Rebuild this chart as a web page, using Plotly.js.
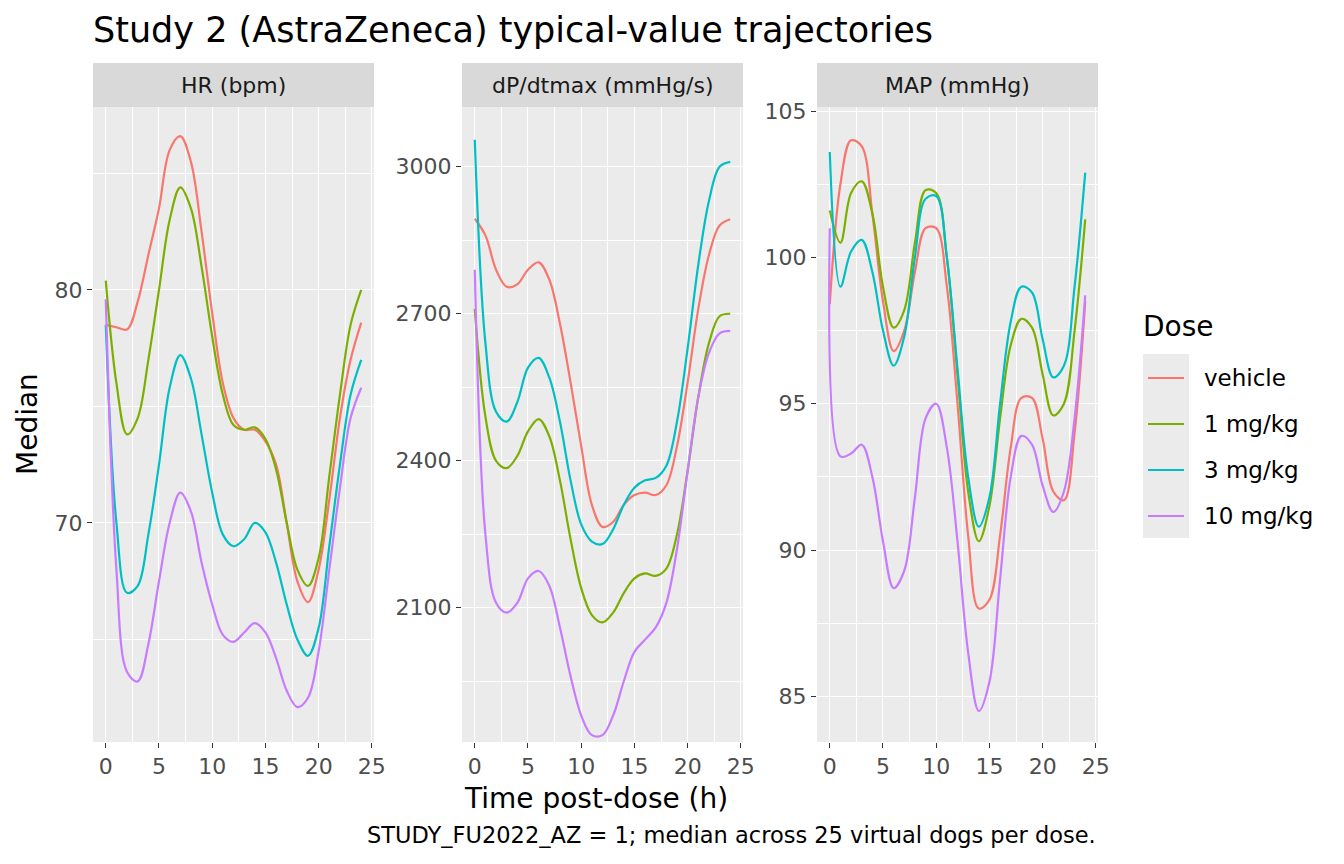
<!DOCTYPE html>
<html><head><script src="https://cdn.plot.ly/plotly-3.0.1.min.js"></script>
<style>body{margin:0}</style></head><body><div id="c" style="width:1344px;height:864px"></div>
<script>
const time=[0,1,2,3,4,5,6,7,8,9,10,11,12,13,14,15,16,17,18,19,20,21,22,23,24];
const doses=["vehicle","1 mg/kg","3 mg/kg","10 mg/kg"];
const colors=["#F8766D","#7CAE00","#00BFC4","#C77CFF"];
const panels=["HR (bpm)","dP/dtmax (mmHg/s)","MAP (mmHg)"];
const hr_vehicle=[78.5,78.4,78.3,79.5,81.5,83.5,86.0,86.6,85.5,82.5,79,76,74.5,74.0,74,73.5,72.5,70,67.5,66.6,68,71,74.5,77,78.6];
const hr_1=[80.4,76,73.8,74.5,77,80,83,84.4,83.5,81,78,75.5,74.2,74,74.1,73.6,72.3,70,68,67.3,68.5,72,75.5,78.5,80];
const hr_3=[78.5,70,67,67.3,69.5,72.5,75.8,77.2,76.2,73.8,71.3,69.5,69.0,69.3,70,69.6,68.3,66.5,65,64.3,65.5,69,72.5,75.5,77];
const hr_10=[79.6,68,63.6,63.2,64.8,67.5,70,71.3,70.5,68.3,66.5,65.2,64.9,65.3,65.7,65.3,64.2,62.8,62.1,62.5,64.5,68,71.5,74.5,75.8];
const dp_vehicle=[2894,2860,2790,2755,2760,2790,2805,2770,2680,2560,2430,2310,2265,2275,2310,2330,2335,2330,2350,2430,2560,2710,2820,2880,2893];
const dp_1=[2710,2490,2400,2385,2410,2460,2485,2450,2360,2240,2140,2085,2070,2090,2130,2160,2170,2165,2180,2250,2380,2530,2640,2695,2700];
const dp_3=[3055,2640,2500,2480,2520,2590,2610,2570,2480,2360,2270,2235,2230,2260,2310,2345,2360,2365,2390,2480,2630,2800,2930,3000,3010];
const dp_10=[2790,2250,2110,2090,2110,2160,2175,2145,2060,1960,1880,1840,1840,1880,1950,2010,2035,2060,2110,2220,2380,2530,2620,2660,2665];
const map_vehicle=[98.4,102.5,104,103.8,101.5,98.5,96.8,97.5,99.5,101,101,99,95,90.5,88,88.3,90.5,93.5,95.2,95.2,93.8,92,91.7,94,98.5];
const map_1=[101.6,100.5,102.2,102.6,101.5,99,97.6,98.2,100.5,102.3,102.2,100,96,92,90.3,91.5,94.5,97,97.9,97.6,96,94.6,95,97.5,101.3];
const map_3=[103.6,99.0,100.2,100.6,99.5,97.5,96.3,97.3,100,102,102.1,100,96.2,92.5,90.8,91.8,95,97.8,99,98.8,97.2,95.9,96.3,99,102.9];
const map_10=[101,93.2,93.3,93.6,92.5,90.3,88.7,89.3,91.8,94.5,95,93.5,90.3,86.5,84.5,85.5,89,92.5,93.9,93.6,92.2,91.3,92,94.5,98.7];
const series=[[hr_vehicle,hr_1,hr_3,hr_10],[dp_vehicle,dp_1,dp_3,dp_10],[map_vehicle,map_1,map_3,map_10]];
const W=1344,H=864;
const xd=[[93,374],[462,743],[817,1098]];
const yr=[[60.6,87.85],[1826,3122],[83.44,105.14]];
const ydt=[10,300,5];
const traces=[];const layout={width:W,height:H,margin:{l:0,r:0,t:0,b:0},paper_bgcolor:"white",plot_bgcolor:"#EBEBEB",showlegend:false,
 font:{family:"DejaVu Sans",color:"#4D4D4D"},shapes:[],annotations:[]};
const py=v=>1-v/H, px=v=>v/W;
series.forEach((ps,p)=>{
 const s=p==0?"":String(p+1);
 ps.forEach((arr,i)=>traces.push({x:time,y:arr,type:"scatter",mode:"lines",line:{color:colors[i],width:2.2,shape:"spline",smoothing:1},xaxis:"x"+s,yaxis:"y"+s,name:doses[i]}));
 layout["xaxis"+s]={domain:[px(xd[p][0]),px(xd[p][1])],range:[-1.2,25.2],anchor:"y"+s,tickvals:[0,5,10,15,20,25],gridcolor:"white",gridwidth:1.3,
   minor:{dtick:2.5,tick0:0,gridcolor:"white",gridwidth:0.6},zeroline:false,ticks:"outside",ticklen:5,tickcolor:"#333",tickfont:{size:22,color:"#4D4D4D"}};
 layout["yaxis"+s]={domain:[py(742),py(107)],range:yr[p],anchor:"x"+s,dtick:ydt[p],gridcolor:"white",gridwidth:1.3,
   minor:{dtick:ydt[p]/2,gridcolor:"white",gridwidth:0.6},zeroline:false,ticks:"outside",ticklen:5,tickcolor:"#333",tickfont:{size:22,color:"#4D4D4D"}};
 layout.shapes.push({type:"rect",xref:"paper",yref:"paper",x0:px(xd[p][0]),x1:px(xd[p][1]),y0:py(107),y1:py(63),fillcolor:"#D9D9D9",line:{width:0}});
 layout.annotations.push({xref:"paper",yref:"paper",x:px((xd[p][0]+xd[p][1])/2),y:py(85),text:panels[p],showarrow:false,font:{size:22,color:"#1A1A1A"},xanchor:"center",yanchor:"middle"});
});
layout.annotations.push({xref:"paper",yref:"paper",x:px(91),y:py(30),text:"Study 2 (AstraZeneca) typical-value trajectories",showarrow:false,xanchor:"left",yanchor:"middle",font:{size:35,color:"black"}});
layout.annotations.push({xref:"paper",yref:"paper",x:px(596),y:py(798),text:"Time post-dose (h)",showarrow:false,xanchor:"center",yanchor:"middle",font:{size:28,color:"black"}});
layout.annotations.push({xref:"paper",yref:"paper",x:px(28),y:py(424),text:"Median",textangle:-90,showarrow:false,xanchor:"center",yanchor:"middle",font:{size:28,color:"black"}});
layout.annotations.push({xref:"paper",yref:"paper",x:px(1098),y:py(835),text:"STUDY_FU2022_AZ = 1; median across 25 virtual dogs per dose.",showarrow:false,xanchor:"right",yanchor:"middle",font:{size:22.5,color:"black"}});
layout.annotations.push({xref:"paper",yref:"paper",x:px(1141),y:py(326),text:"Dose",showarrow:false,xanchor:"left",yanchor:"middle",font:{size:28,color:"black"}});
layout.shapes.push({type:"rect",xref:"paper",yref:"paper",x0:px(1143),x1:px(1189),y0:py(538),y1:py(354),fillcolor:"#EBEBEB",line:{width:0}});
doses.forEach((d,i)=>{const y=378+46*i;
 layout.shapes.push({type:"line",xref:"paper",yref:"paper",x0:px(1148),x1:px(1184),y0:py(y),y1:py(y),line:{color:colors[i],width:2.2}});
 layout.annotations.push({xref:"paper",yref:"paper",x:px(1202),y:py(y),text:d,showarrow:false,xanchor:"left",yanchor:"middle",font:{size:23,color:"black"}});
});
Plotly.newPlot("c",traces,layout,{displayModeBar:false});
</script></body></html>
